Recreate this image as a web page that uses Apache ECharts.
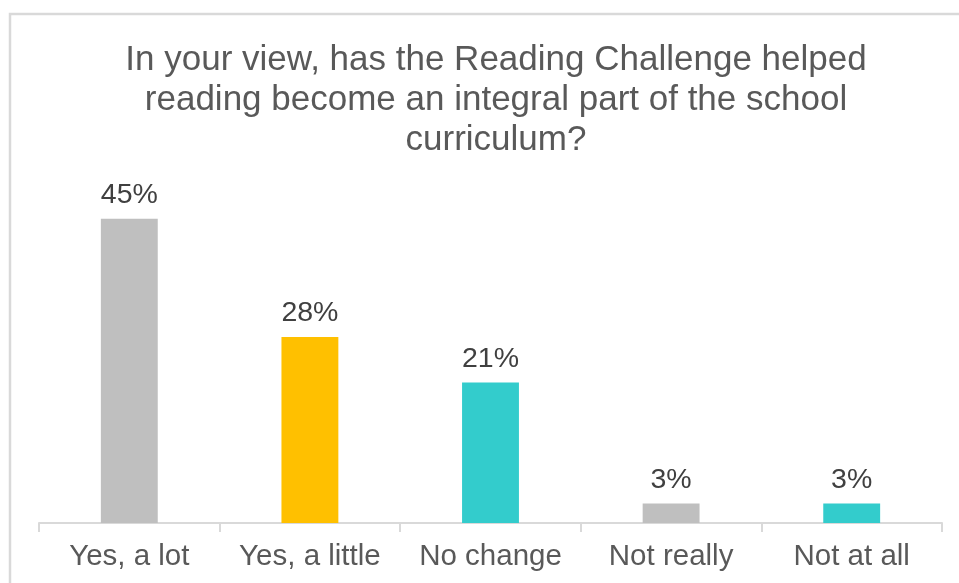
<!DOCTYPE html>
<html>
<head>
<meta charset="utf-8">
<script src="https://cdn.jsdelivr.net/npm/echarts@6/dist/echarts.min.js"></script>
<style>
html,body{margin:0;padding:0;background:#fff;}
#chart{width:959px;height:583px;}
</style>
</head>
<body>
<div id="chart"></div>
<script>
const titleText = "In your view, has the Reading Challenge helped\nreading become an integral part of the school\ncurriculum?";
const categories = ["Yes, a lot", "Yes, a little", "No change", "Not really", "Not at all"];
const values = [45, 27.5, 20.8, 2.9, 2.9];
const barColors = ["#BFBFBF", "#FFC000", "#33CCCC", "#BFBFBF", "#33CCCC"];

const chart = echarts.init(document.getElementById('chart'), null, {renderer: 'canvas'});
const font = 'Liberation Sans, Arial, sans-serif';
chart.setOption({
  backgroundColor: '#ffffff',
  animation: false,
  graphic: [{
    type: 'rect',
    shape: {x: 10, y: 14, width: 1200, height: 1000},
    style: {fill: 'none', stroke: '#D9D9D9', lineWidth: 2.5},
    silent: true
  }],
  title: {
    text: titleText,
    left: 491,
    textAlign: 'center',
    top: 35,
    textStyle: {
      fontFamily: font,
      fontSize: 35,
      fontWeight: 'normal',
      color: '#595959',
      lineHeight: 40
    }
  },
  grid: {left: 39, right: 17, top: 185, bottom: 60},
  xAxis: {
    type: 'category',
    data: categories,
    axisLine: {lineStyle: {color: '#D9D9D9', width: 2}},
    axisTick: {show: true, interval: 0, length: 9, lineStyle: {color: '#D9D9D9', width: 2}},
    axisLabel: {
      interval: 0,
      margin: 19,
      fontFamily: font,
      fontSize: 29.5,
      color: '#595959'
    }
  },
  yAxis: {
    type: 'value',
    min: 0,
    max: 50,
    show: false,
    splitLine: {show: false}
  },
  series: [{
    type: 'bar',
    data: values.map((v, i) => ({value: v, itemStyle: {color: barColors[i]}})),
    barWidth: '31.5%',
    label: {
      show: true,
      position: 'top',
      distance: 9,
      fontFamily: font,
      fontSize: 28.5,
      color: '#404040',
      formatter: p => Math.round(p.value) + '%'
    }
  }]
});
</script>
</body>
</html>
